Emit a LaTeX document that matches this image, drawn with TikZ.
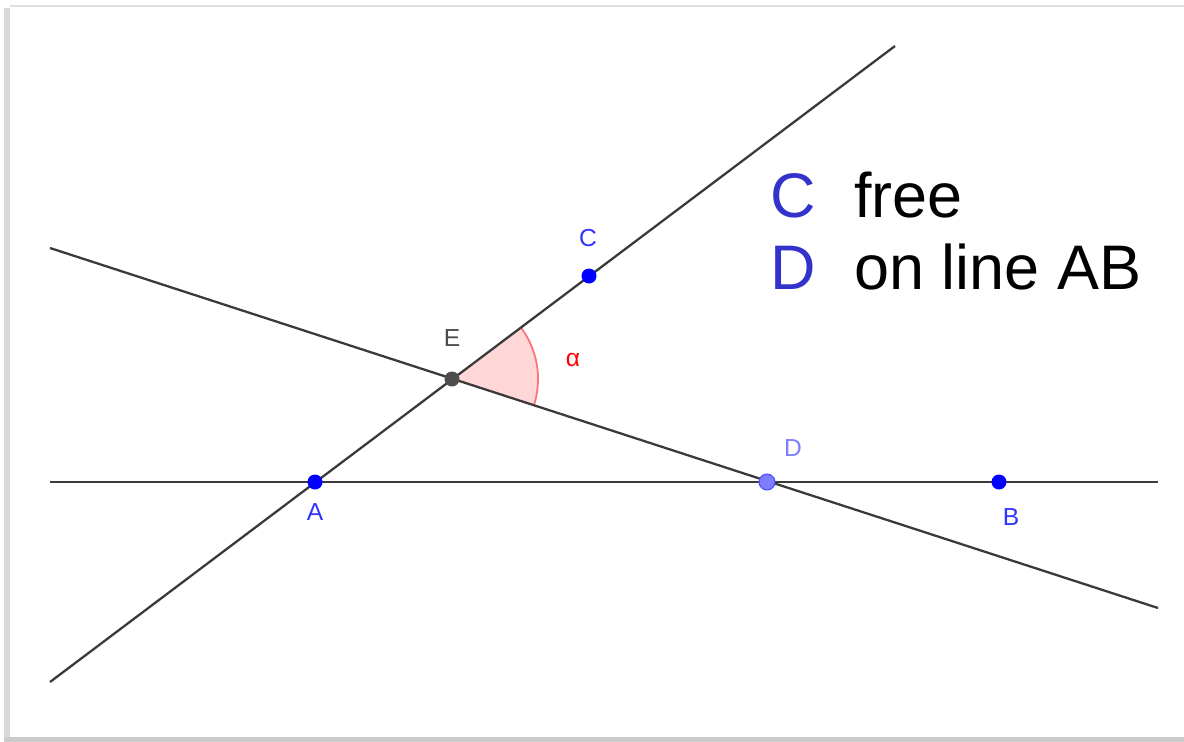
\documentclass[tikz,border=0pt]{standalone}
\usepackage{fontspec}
\setmainfont{Liberation Sans}
\usetikzlibrary{calc}
\definecolor{GeoBlue}{RGB}{0,0,255}
\definecolor{GeoLight}{RGB}{125,125,255}
\definecolor{GeoGray}{RGB}{77,77,77}
\definecolor{TextBlue}{RGB}{51,51,204}
\definecolor{AnglePink}{RGB}{255,215,215}

\begin{document}
\begin{tikzpicture}[x=.01cm,y=-.01cm,
    pt/.style={circle,inner sep=0pt,minimum size=.15cm},
    lab/.style={font=\fontsize{7}{8}\selectfont},
    legend/.style={anchor=base west,inner sep=0pt,font=\fontsize{17.9}{20}\selectfont}]
  \useasboundingbox (0,0) rectangle (1184,742);
  % frame
  \fill[gray!30] (4,8) rectangle (10,742);
  \fill[gray!40] (4,737) rectangle (1184,742);
  \draw[gray!25,line width=.6pt] (10,6)--(1184,6);
  % the three lines
  \coordinate (h1) at (50,482);   \coordinate (h2) at (1158,482);
  \coordinate (s1) at (50,682);   \coordinate (s2) at (895,46);
  \coordinate (t1) at (50,248);   \coordinate (t2) at (1158,608);
  \coordinate (E) at (452,379);
  % angle alpha
  \fill[AnglePink] (E) -- +(-18.1:.86cm) arc[start angle=-18.1,end angle=36.9,radius=.86cm] -- cycle;
  \draw[red!55,line width=.5pt] (E) ++(-18.1:.86cm) arc[start angle=-18.1,end angle=36.9,radius=.86cm];
  \draw[GeoGray!75!black,line width=.65pt] (h1)--(h2);
  \draw[GeoGray!75!black,line width=.65pt] (s1)--(s2);
  \draw[GeoGray!75!black,line width=.65pt] (t1)--(t2);
  % points
  \node[pt,fill=GeoBlue] (A) at (315,482) {};
  \node[pt,fill=GeoBlue] (B) at (999,482) {};
  \node[pt,fill=GeoBlue] (C) at (589,276) {};
  \node[pt,fill=GeoLight,draw=GeoBlue!70,line width=.3pt,minimum size=.16cm] (D) at (767,482) {};
  \node[pt,fill=GeoGray] (Ep) at (E) {};
  \node[lab,text=GeoBlue!80] at (315,512) {A};
  \node[lab,text=GeoBlue!80] at (1011,517) {B};
  \node[lab,text=GeoBlue!80] at (588,238) {C};
  \node[lab,text=GeoLight] at (793,448) {D};
  \node[lab,text=GeoGray] at (452,338) {E};
  \node[lab,text=red] at (573,360) {α};
  % legend
  \node[legend] (free) at (770,217) {\textcolor{TextBlue}{C}\hspace{.38cm}free};
  \node[legend] (online) at (770,289) {\textcolor{TextBlue}{D}\hspace{.38cm}on line AB};
\end{tikzpicture}
\end{document}
